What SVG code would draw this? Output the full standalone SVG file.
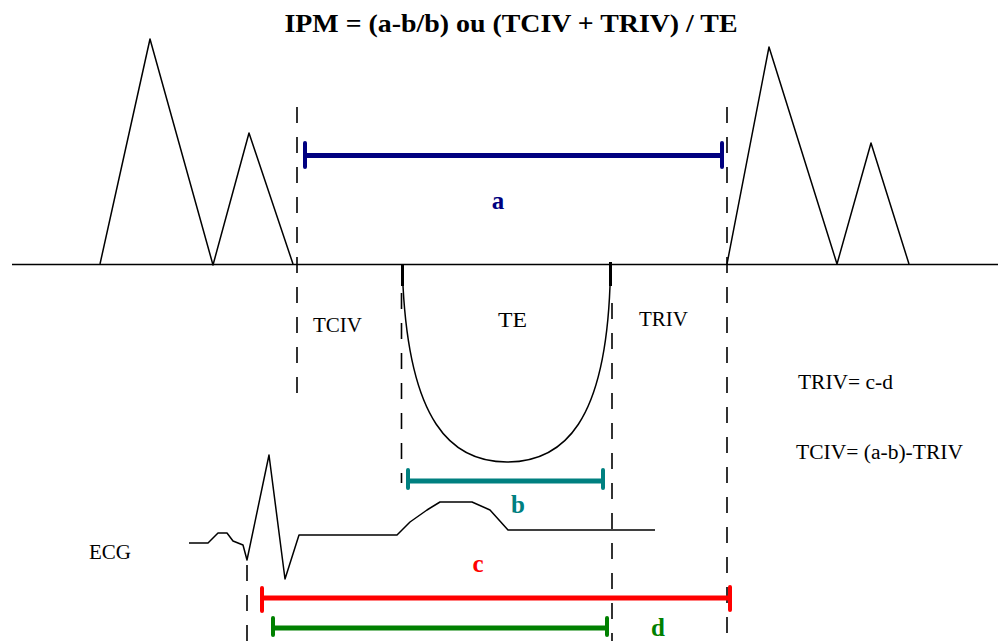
<svg xmlns="http://www.w3.org/2000/svg" width="998" height="641" viewBox="0 0 998 641">
<style>
.ln{fill:none;stroke:#000;stroke-width:1.5;stroke-linejoin:round}
.dash{fill:none;stroke:#000;stroke-width:1.6;stroke-dasharray:16 14}
.lbl{font-family:"Liberation Serif",serif;font-size:20px;fill:#000}
.bl{font-family:"Liberation Serif",serif;font-size:25px;font-weight:bold;text-anchor:middle}
</style>
<rect width="998" height="641" fill="#fff"/>
<g id="title">
<text x="511" y="32" text-anchor="middle" font-family="Liberation Serif, serif" font-size="25" font-weight="bold" textLength="453" lengthAdjust="spacingAndGlyphs">IPM = (a-b/b) ou (TCIV + TRIV) / TE</text>
</g>
<g id="baseline">
<path class="ln" d="M12,264.5 H998"/>
</g>
<g id="left-peaks">
<path class="ln" d="M100,264 L150,39 L213,265 L249,133 L293,264"/>
</g>
<g id="right-peaks">
<path class="ln" d="M727,264 L769,47 L837,264 L871,143 L909,264"/>
</g>
<g id="te-curve">
<path class="ln" d="M403,286 C410,420 450,462 507,462 C565,462 605,420 610,286"/>
<path d="M402.5,264 V286 M610.5,262 V286" stroke="#000" stroke-width="3" fill="none"/>
</g>
<g id="ecg">
<path class="ln" d="M189,543 L208,543 L218,533 L227,533 L233,541 L243,545 L247,560 L269,455 L285,579 L299,535 L397,535 L410,522 L427,510 L440,502 L472,502 L490,510 L508,530 L655,530"/>
</g>
<g id="connectors">
<path class="dash" d="M297,107 V405"/>
<path class="dash" d="M727,107 V641"/>
<path class="dash" d="M401.5,293 V483"/>
<path class="dash" d="M612,303 V641"/>
<path class="dash" d="M247,565 V641"/>
</g>
<g id="bar-a" stroke="#000080" fill="none">
<path d="M305,155.5 H722" stroke-width="5"/>
<path d="M305,143 V167 M722,143 V167" stroke-width="4" stroke-linecap="round"/>
<text class="bl" x="498" y="209" fill="#000080" stroke="none">a</text>
</g>
<g id="bar-b" stroke="#008080" fill="none">
<path d="M408,481 H603" stroke-width="5"/>
<path d="M408,470 V488 M603,470 V488" stroke-width="4" stroke-linecap="round"/>
<text class="bl" x="518" y="513" fill="#008080" stroke="none">b</text>
</g>
<g id="bar-c" stroke="#ff0000" fill="none">
<path d="M262,598 H730" stroke-width="5"/>
<path d="M262,588 V611 M730,587 V610" stroke-width="4" stroke-linecap="round"/>
<text class="bl" x="478" y="572" fill="#ff0000" stroke="none">c</text>
</g>
<g id="bar-d" stroke="#008000" fill="none">
<path d="M273,628 H607" stroke-width="5"/>
<path d="M273,618 V635 M607,618 V635" stroke-width="4" stroke-linecap="round"/>
<text class="bl" x="658" y="636" fill="#008000" stroke="none">d</text>
</g>
<g id="labels">
<text class="lbl" x="313" y="332" textLength="49" lengthAdjust="spacingAndGlyphs">TCIV</text>
<text class="lbl" x="498" y="327" textLength="29" lengthAdjust="spacingAndGlyphs">TE</text>
<text class="lbl" x="639" y="326" textLength="49" lengthAdjust="spacingAndGlyphs">TRIV</text>
<text class="lbl" x="798" y="389" textLength="95" lengthAdjust="spacingAndGlyphs">TRIV= c-d</text>
<text class="lbl" x="796" y="459" textLength="167" lengthAdjust="spacingAndGlyphs">TCIV= (a-b)-TRIV</text>
<text class="lbl" x="89" y="559" textLength="42" lengthAdjust="spacingAndGlyphs">ECG</text>
</g>
</svg>
